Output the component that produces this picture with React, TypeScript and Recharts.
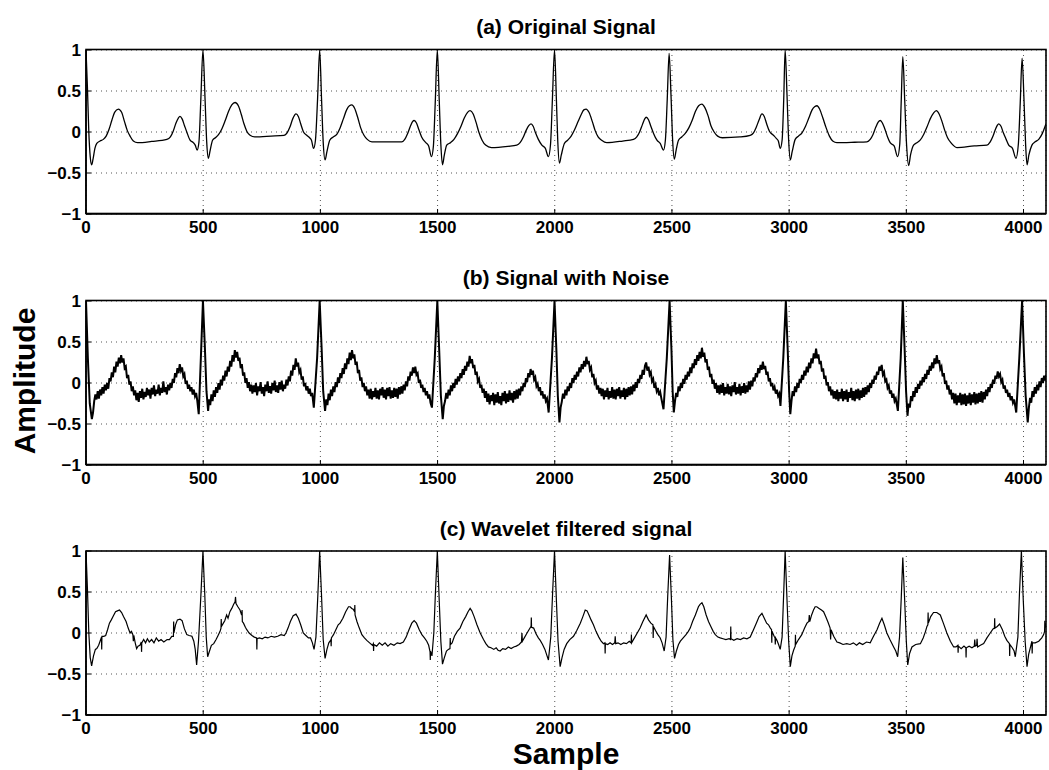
import React from "react";
import { LineChart, Line, XAxis, YAxis, CartesianGrid } from "recharts";

const FONT = "'Liberation Sans', Arial, Helvetica, sans-serif";

const sampleTicks = [0, 500, 1000, 1500, 2000, 2500, 3000, 3500, 4000];
const amplitudeTicks = [-1, -0.5, 0, 0.5, 1];

// (a) clean ECG
const originalSignal: [number, number][] = [
  [0, 1], [6, 0.55], [12, 0.0], [18, -0.3], [24, -0.4], [30, -0.33], [38, -0.2], [46, -0.14], [60, -0.11], [74, -0.09],
  [86, -0.05], [98, 0.03], [110, 0.14], [122, 0.24], [138, 0.28], [152, 0.24], [164, 0.13], [176, 0.02], [188, -0.05],
  [202, -0.11], [220, -0.13], [280, -0.115], [345, -0.09], [360, -0.06], [372, 0.01], [384, 0.11], [394, 0.17], [401, 0.19],
  [410, 0.16], [420, 0.08], [430, 0.0], [444, -0.1], [458, -0.13], [466, -0.16], [474, -0.22],
  [482, -0.12], [490, 0.4], [499, 1], [508, 0.4], [515, -0.12], [522, -0.32], [530, -0.22], [540, -0.1], [552, -0.07],
  [566, -0.03], [580, 0.04], [594, 0.14], [608, 0.25], [622, 0.33], [636, 0.36], [650, 0.32], [662, 0.22], [674, 0.1],
  [686, 0.01], [700, -0.04], [720, -0.06], [790, -0.05], [845, -0.04], [858, -0.01], [870, 0.06], [882, 0.16], [896, 0.22],
  [906, 0.19], [916, 0.1], [928, 0.0], [942, -0.04], [954, -0.07], [962, -0.1], [971, -0.2],
  [979, -0.1], [988, 0.4], [997, 1], [1005, 0.4], [1012, -0.12], [1020, -0.34], [1028, -0.24], [1040, -0.1], [1055, -0.06],
  [1070, -0.03], [1084, 0.05], [1098, 0.16], [1112, 0.27], [1124, 0.32], [1134, 0.33], [1146, 0.29], [1160, 0.17],
  [1172, 0.05], [1186, -0.04], [1200, -0.09], [1220, -0.12], [1300, -0.12], [1347, -0.12], [1360, -0.09], [1372, -0.02],
  [1384, 0.07], [1394, 0.13], [1400, 0.14], [1410, 0.11], [1420, 0.03], [1432, -0.06], [1450, -0.13], [1462, -0.17], [1474, -0.3],
  [1482, -0.18], [1490, 0.35], [1499, 1], [1507, 0.4], [1514, -0.15], [1521, -0.4], [1529, -0.28], [1539, -0.16], [1555, -0.13],
  [1570, -0.09], [1585, -0.02], [1600, 0.07], [1614, 0.17], [1628, 0.24], [1639, 0.26], [1652, 0.22], [1664, 0.12], [1676, 0.0],
  [1690, -0.1], [1705, -0.16], [1730, -0.19], [1800, -0.175], [1838, -0.16], [1852, -0.13], [1866, -0.06], [1878, 0.02],
  [1890, 0.08], [1899, 0.1], [1908, 0.07], [1918, -0.01], [1930, -0.09], [1945, -0.16], [1960, -0.2], [1973, -0.3],
  [1982, -0.15], [1990, 0.4], [1999, 1], [2007, 0.4], [2013, -0.12], [2020, -0.38], [2028, -0.28], [2041, -0.14], [2055, -0.1],
  [2070, -0.05], [2085, 0.03], [2100, 0.13], [2114, 0.22], [2124, 0.27], [2134, 0.28], [2146, 0.24], [2160, 0.13], [2172, 0.02],
  [2185, -0.06], [2200, -0.1], [2222, -0.13], [2290, -0.11], [2336, -0.09], [2350, -0.06], [2362, 0.0], [2374, 0.09],
  [2384, 0.16], [2390, 0.18], [2400, 0.15], [2410, 0.07], [2422, -0.02], [2436, -0.1], [2450, -0.14], [2464, -0.22],
  [2472, -0.1], [2480, 0.4], [2488, 0.96], [2496, 0.45], [2503, -0.1], [2510, -0.33], [2518, -0.22], [2528, -0.1], [2542, -0.06],
  [2556, -0.02], [2572, 0.05], [2586, 0.14], [2600, 0.25], [2614, 0.32], [2628, 0.34], [2640, 0.3], [2654, 0.2], [2666, 0.08],
  [2680, 0.0], [2695, -0.05], [2715, -0.07], [2790, -0.06], [2834, -0.04], [2848, -0.01], [2860, 0.06], [2872, 0.15],
  [2884, 0.22], [2894, 0.19], [2904, 0.1], [2916, 0.01], [2933, -0.04], [2946, -0.08], [2954, -0.11], [2962, -0.2],
  [2970, -0.1], [2977, 0.4], [2983, 1], [2991, 0.45], [2998, -0.1], [3005, -0.34], [3013, -0.24], [3026, -0.09], [3040, -0.05],
  [3055, -0.01], [3070, 0.07], [3084, 0.17], [3098, 0.27], [3110, 0.31], [3119, 0.32], [3130, 0.28], [3144, 0.17], [3158, 0.05],
  [3172, -0.05], [3186, -0.11], [3204, -0.13], [3280, -0.125], [3332, -0.12], [3346, -0.09], [3358, -0.03], [3370, 0.06],
  [3380, 0.12], [3389, 0.14], [3398, 0.11], [3408, 0.04], [3420, -0.06], [3431, -0.13], [3448, -0.17], [3463, -0.3],
  [3472, -0.15], [3478, 0.35], [3485, 0.92], [3493, 0.4], [3501, -0.15], [3510, -0.41], [3518, -0.28], [3531, -0.16],
  [3545, -0.13], [3559, -0.1], [3574, -0.03], [3588, 0.06], [3602, 0.16], [3616, 0.23], [3628, 0.26], [3640, 0.22], [3652, 0.13],
  [3664, 0.02], [3676, -0.07], [3690, -0.13], [3716, -0.19], [3790, -0.17], [3844, -0.16], [3858, -0.12], [3870, -0.05],
  [3880, 0.03], [3888, 0.08], [3894, 0.1], [3904, 0.07], [3914, -0.01], [3926, -0.09], [3937, -0.16], [3953, -0.2], [3968, -0.32],
  [3978, -0.15], [3986, 0.35], [3994, 0.9], [4002, 0.4], [4009, -0.15], [4015, -0.4], [4023, -0.28], [4036, -0.16], [4050, -0.12],
  [4065, -0.09], [4080, -0.02], [4096, 0.1],
];

// (b) the same record with noise
const noisySignal: [number, number][] = [
  [0, 1], [8, 0.3], [16, -0.25], [25, -0.44], [30, -0.36], [35, -0.22], [40, -0.14], [45, -0.2], [50, -0.1], [55, -0.19],
  [60, -0.08], [65, -0.15], [70, -0.05], [75, -0.13], [80, -0.02], [85, -0.09], [90, 0.0], [95, -0.07], [100, 0.06],
  [105, 0.02], [110, 0.13], [115, 0.07], [120, 0.2], [125, 0.13], [130, 0.26], [135, 0.2], [140, 0.31], [145, 0.24], [150, 0.34],
  [155, 0.25], [160, 0.3], [165, 0.18], [170, 0.2], [175, 0.06], [180, 0.1], [185, -0.02], [190, 0.02], [195, -0.1], [200, -0.04],
  [205, -0.15], [210, -0.09], [215, -0.21], [220, -0.12], [225, -0.23], [230, -0.1], [235, -0.18], [240, -0.07], [245, -0.2],
  [250, -0.11], [255, -0.17], [260, -0.06], [265, -0.15], [270, -0.08], [275, -0.19], [280, -0.06], [285, -0.14], [290, -0.03],
  [295, -0.16], [300, -0.08], [305, -0.13], [310, -0.02], [315, -0.15], [320, -0.06], [325, -0.12], [330, 0.02], [335, -0.11],
  [340, -0.05], [345, -0.14], [350, -0.02], [355, -0.09], [360, 0.0], [365, -0.06], [370, 0.05], [375, 0.0], [380, 0.12],
  [385, 0.07], [390, 0.18], [395, 0.12], [400, 0.23], [405, 0.15], [410, 0.19], [415, 0.08], [420, 0.11], [425, -0.01],
  [430, 0.03], [435, -0.07], [440, -0.02], [445, -0.1], [450, -0.05], [455, -0.14], [460, -0.08], [465, -0.16], [470, -0.12],
  [475, -0.22], [481, -0.38],
  [490, 0.3], [499, 1], [507, 0.45], [514, -0.1], [521, -0.34], [525, -0.2], [530, -0.27], [535, -0.14], [540, -0.22],
  [545, -0.09], [550, -0.17], [555, -0.05], [560, -0.12], [565, 0.0], [570, -0.08], [575, 0.04], [580, -0.03], [585, 0.09],
  [590, 0.03], [595, 0.15], [600, 0.08], [605, 0.2], [610, 0.14], [615, 0.27], [620, 0.2], [625, 0.34], [630, 0.26], [635, 0.4],
  [640, 0.31], [645, 0.38], [650, 0.27], [655, 0.31], [660, 0.18], [665, 0.23], [670, 0.09], [675, 0.13], [680, 0.0],
  [685, 0.06], [690, -0.06], [695, 0.01], [700, -0.1], [705, -0.02], [710, -0.13], [715, -0.03], [720, -0.11], [725, 0.0],
  [730, -0.15], [735, -0.04], [740, -0.1], [745, 0.01], [750, -0.13], [755, -0.05], [760, -0.16], [765, -0.02], [770, -0.1],
  [775, 0.02], [780, -0.12], [785, -0.04], [790, -0.13], [795, 0.0], [800, -0.09], [805, 0.03], [810, -0.11], [815, -0.03],
  [820, -0.12], [825, 0.01], [830, -0.08], [835, 0.03], [840, -0.1], [845, -0.02], [850, -0.07], [855, 0.04], [860, -0.03],
  [865, 0.08], [870, 0.02], [875, 0.15], [880, 0.09], [885, 0.22], [890, 0.16], [895, 0.3], [900, 0.2], [905, 0.25],
  [910, 0.13], [915, 0.16], [920, 0.04], [925, 0.08], [930, -0.04], [935, 0.0], [940, -0.09], [945, -0.04], [950, -0.13],
  [955, -0.07], [960, -0.16], [965, -0.12], [972, -0.3],
  [986, 0.3], [997, 1], [1005, 0.45], [1012, -0.1], [1020, -0.34], [1025, -0.2], [1030, -0.27], [1035, -0.13], [1040, -0.21],
  [1045, -0.08], [1050, -0.16], [1055, -0.04], [1060, -0.11], [1065, 0.01], [1070, -0.05], [1075, 0.07], [1080, 0.0],
  [1085, 0.12], [1090, 0.06], [1095, 0.18], [1100, 0.11], [1105, 0.24], [1110, 0.17], [1115, 0.3], [1120, 0.23], [1125, 0.37],
  [1130, 0.28], [1135, 0.4], [1140, 0.3], [1145, 0.35], [1150, 0.22], [1155, 0.26], [1160, 0.12], [1165, 0.16], [1170, 0.03],
  [1175, 0.07], [1180, -0.05], [1185, 0.0], [1190, -0.1], [1195, -0.04], [1200, -0.15], [1205, -0.08], [1210, -0.19],
  [1215, -0.07], [1220, -0.2], [1225, -0.1], [1230, -0.17], [1235, -0.06], [1240, -0.19], [1245, -0.09], [1250, -0.2],
  [1255, -0.07], [1260, -0.15], [1265, -0.05], [1270, -0.18], [1275, -0.08], [1280, -0.2], [1285, -0.06], [1290, -0.16],
  [1295, -0.05], [1300, -0.19], [1305, -0.09], [1310, -0.18], [1315, -0.06], [1320, -0.17], [1325, -0.07], [1330, -0.19],
  [1335, -0.05], [1340, -0.14], [1345, -0.04], [1350, -0.13], [1355, -0.02], [1360, -0.09], [1365, 0.02], [1370, -0.04],
  [1375, 0.08], [1380, 0.03], [1385, 0.14], [1390, 0.09], [1395, 0.19], [1400, 0.12], [1405, 0.2], [1410, 0.1], [1415, 0.12],
  [1420, 0.0], [1425, 0.04], [1430, -0.06], [1435, -0.02], [1440, -0.11], [1445, -0.06], [1450, -0.15], [1455, -0.1],
  [1460, -0.19], [1465, -0.14], [1470, -0.24], [1476, -0.3],
  [1488, 0.3], [1499, 1], [1507, 0.4], [1514, -0.15], [1522, -0.44], [1527, -0.28], [1532, -0.22], [1537, -0.12], [1542, -0.19],
  [1547, -0.08], [1552, -0.15], [1557, -0.03], [1562, -0.1], [1567, 0.0], [1572, -0.06], [1577, 0.05], [1582, -0.02],
  [1587, 0.08], [1592, 0.02], [1597, 0.12], [1602, 0.06], [1607, 0.17], [1612, 0.1], [1617, 0.21], [1622, 0.15], [1627, 0.26],
  [1632, 0.2], [1637, 0.33], [1642, 0.24], [1647, 0.29], [1652, 0.18], [1657, 0.22], [1662, 0.1], [1667, 0.14], [1672, 0.02],
  [1677, 0.05], [1682, -0.06], [1687, -0.02], [1692, -0.12], [1697, -0.07], [1702, -0.18], [1707, -0.1], [1712, -0.23],
  [1717, -0.13], [1722, -0.26], [1727, -0.15], [1732, -0.22], [1737, -0.12], [1742, -0.27], [1747, -0.14], [1752, -0.24],
  [1757, -0.11], [1762, -0.25], [1767, -0.16], [1772, -0.27], [1777, -0.12], [1782, -0.22], [1787, -0.1], [1792, -0.25],
  [1797, -0.13], [1802, -0.23], [1807, -0.09], [1812, -0.21], [1817, -0.12], [1822, -0.24], [1827, -0.1], [1832, -0.2],
  [1837, -0.08], [1842, -0.19], [1847, -0.07], [1852, -0.15], [1857, -0.04], [1862, -0.1], [1867, 0.0], [1872, -0.05],
  [1877, 0.06], [1882, 0.01], [1887, 0.12], [1892, 0.07], [1897, 0.17], [1902, 0.1], [1907, 0.15], [1912, 0.04], [1917, 0.07],
  [1922, -0.04], [1927, -0.01], [1932, -0.1], [1937, -0.05], [1942, -0.15], [1947, -0.1], [1952, -0.19], [1957, -0.14],
  [1962, -0.22], [1967, -0.19], [1974, -0.36],
  [1988, 0.3], [1999, 1], [2007, 0.4], [2013, -0.15], [2020, -0.48], [2025, -0.3], [2030, -0.23], [2035, -0.13], [2040, -0.19],
  [2045, -0.08], [2050, -0.15], [2055, -0.04], [2060, -0.1], [2065, 0.0], [2070, -0.06], [2075, 0.06], [2080, 0.0],
  [2085, 0.1], [2090, 0.04], [2095, 0.14], [2100, 0.08], [2105, 0.19], [2110, 0.13], [2115, 0.23], [2120, 0.17], [2125, 0.27],
  [2130, 0.2], [2135, 0.32], [2140, 0.23], [2145, 0.27], [2150, 0.16], [2155, 0.19], [2160, 0.07], [2165, 0.11], [2170, 0.0],
  [2175, 0.03], [2180, -0.08], [2185, -0.03], [2190, -0.13], [2195, -0.06], [2200, -0.16], [2205, -0.07], [2210, -0.2],
  [2215, -0.09], [2220, -0.17], [2225, -0.06], [2230, -0.2], [2235, -0.1], [2240, -0.18], [2245, -0.05], [2250, -0.19],
  [2255, -0.08], [2260, -0.2], [2265, -0.07], [2270, -0.16], [2275, -0.05], [2280, -0.19], [2285, -0.09], [2290, -0.17],
  [2295, -0.06], [2300, -0.2], [2305, -0.07], [2310, -0.17], [2315, -0.05], [2320, -0.15], [2325, -0.04], [2330, -0.14],
  [2335, -0.02], [2340, -0.1], [2345, 0.01], [2350, -0.06], [2355, 0.05], [2360, 0.0], [2365, 0.1], [2370, 0.05], [2375, 0.16],
  [2380, 0.1], [2385, 0.21], [2390, 0.25], [2395, 0.15], [2400, 0.2], [2405, 0.1], [2410, 0.13], [2415, 0.02], [2420, 0.05],
  [2425, -0.06], [2430, -0.02], [2435, -0.1], [2440, -0.06], [2445, -0.15], [2450, -0.11], [2455, -0.19], [2464, -0.32],
  [2478, 0.3], [2490, 1], [2498, 0.4], [2503, -0.1], [2508, -0.36], [2513, -0.22], [2518, -0.12], [2523, -0.17], [2528, -0.04],
  [2533, -0.1], [2538, 0.0], [2543, -0.06], [2548, 0.05], [2553, -0.01], [2558, 0.1], [2563, 0.04], [2568, 0.14], [2573, 0.08],
  [2578, 0.19], [2583, 0.12], [2588, 0.24], [2593, 0.18], [2598, 0.29], [2603, 0.22], [2608, 0.34], [2613, 0.27], [2618, 0.38],
  [2623, 0.3], [2628, 0.43], [2633, 0.32], [2638, 0.37], [2643, 0.25], [2648, 0.29], [2653, 0.16], [2658, 0.2], [2663, 0.07],
  [2668, 0.11], [2673, -0.01], [2678, 0.04], [2683, -0.07], [2688, 0.0], [2693, -0.12], [2698, -0.03], [2703, -0.14],
  [2708, -0.02], [2713, -0.12], [2718, 0.0], [2723, -0.15], [2728, -0.05], [2733, -0.13], [2738, -0.01], [2743, -0.14],
  [2748, -0.04], [2753, -0.16], [2758, -0.03], [2763, -0.11], [2768, 0.01], [2773, -0.14], [2778, -0.05], [2783, -0.13],
  [2788, -0.01], [2793, -0.15], [2798, -0.04], [2803, -0.12], [2808, 0.0], [2813, -0.13], [2818, -0.03], [2823, -0.11],
  [2828, 0.02], [2833, -0.08], [2838, 0.03], [2843, -0.04], [2848, 0.07], [2853, 0.02], [2858, 0.12], [2863, 0.07],
  [2868, 0.18], [2873, 0.12], [2878, 0.22], [2883, 0.16], [2888, 0.26], [2893, 0.17], [2898, 0.21], [2903, 0.1], [2908, 0.14],
  [2913, 0.02], [2918, 0.06], [2923, -0.04], [2928, 0.0], [2933, -0.09], [2938, -0.05], [2943, -0.13], [2948, -0.08],
  [2953, -0.16], [2958, -0.13], [2963, -0.28],
  [2975, 0.3], [2986, 1], [2994, 0.4], [3000, -0.1], [3005, -0.38], [3010, -0.22], [3015, -0.1], [3020, -0.16], [3025, -0.04],
  [3030, -0.11], [3035, 0.0], [3040, -0.06], [3045, 0.05], [3050, 0.0], [3055, 0.1], [3060, 0.04], [3065, 0.15], [3070, 0.09],
  [3075, 0.2], [3080, 0.13], [3085, 0.25], [3090, 0.18], [3095, 0.3], [3100, 0.24], [3105, 0.36], [3110, 0.3], [3115, 0.42],
  [3120, 0.3], [3125, 0.35], [3130, 0.23], [3135, 0.27], [3140, 0.14], [3145, 0.18], [3150, 0.05], [3155, 0.09], [3160, -0.03],
  [3165, 0.01], [3170, -0.1], [3175, -0.04], [3180, -0.15], [3185, -0.08], [3190, -0.19], [3195, -0.1], [3200, -0.2],
  [3205, -0.08], [3210, -0.22], [3215, -0.11], [3220, -0.19], [3225, -0.07], [3230, -0.22], [3235, -0.1], [3240, -0.2],
  [3245, -0.08], [3250, -0.23], [3255, -0.11], [3260, -0.18], [3265, -0.06], [3270, -0.21], [3275, -0.1], [3280, -0.22],
  [3285, -0.08], [3290, -0.19], [3295, -0.07], [3300, -0.21], [3305, -0.09], [3310, -0.18], [3315, -0.06], [3320, -0.17],
  [3325, -0.05], [3330, -0.14], [3335, -0.03], [3340, -0.11], [3345, 0.0], [3350, -0.06], [3355, 0.04], [3360, -0.01],
  [3365, 0.09], [3370, 0.04], [3375, 0.14], [3380, 0.1], [3385, 0.2], [3390, 0.15], [3395, 0.22], [3400, 0.1], [3405, 0.13],
  [3410, 0.02], [3415, 0.04], [3420, -0.06], [3425, -0.03], [3430, -0.13], [3435, -0.09], [3440, -0.18], [3445, -0.13],
  [3450, -0.22], [3455, -0.19], [3464, -0.34],
  [3476, 0.3], [3485, 1], [3493, 0.4], [3499, -0.1], [3505, -0.4], [3510, -0.25], [3515, -0.3], [3520, -0.16], [3525, -0.22],
  [3530, -0.1], [3535, -0.17], [3540, -0.05], [3545, -0.12], [3550, -0.01], [3555, -0.07], [3560, 0.03], [3565, -0.03],
  [3570, 0.07], [3575, 0.01], [3580, 0.11], [3585, 0.05], [3590, 0.16], [3595, 0.1], [3600, 0.21], [3605, 0.15], [3610, 0.25],
  [3615, 0.18], [3620, 0.3], [3625, 0.23], [3630, 0.34], [3635, 0.24], [3640, 0.28], [3645, 0.17], [3650, 0.2], [3655, 0.08],
  [3660, 0.12], [3665, -0.01], [3670, 0.03], [3675, -0.08], [3680, -0.03], [3685, -0.14], [3690, -0.08], [3695, -0.2],
  [3700, -0.12], [3705, -0.25], [3710, -0.13], [3715, -0.27], [3720, -0.15], [3725, -0.24], [3730, -0.12], [3735, -0.27],
  [3740, -0.14], [3745, -0.26], [3750, -0.13], [3755, -0.28], [3760, -0.15], [3765, -0.25], [3770, -0.12], [3775, -0.27],
  [3780, -0.14], [3785, -0.24], [3790, -0.11], [3795, -0.26], [3800, -0.13], [3805, -0.25], [3810, -0.12], [3815, -0.23],
  [3820, -0.1], [3825, -0.24], [3830, -0.11], [3835, -0.2], [3840, -0.08], [3845, -0.16], [3850, -0.05], [3855, -0.11],
  [3860, -0.01], [3865, -0.06], [3870, 0.04], [3875, -0.01], [3880, 0.09], [3885, 0.05], [3890, 0.14], [3895, 0.08],
  [3900, 0.11], [3905, 0.01], [3910, 0.04], [3915, -0.07], [3920, -0.03], [3925, -0.12], [3930, -0.08], [3935, -0.17],
  [3940, -0.12], [3945, -0.21], [3950, -0.16], [3955, -0.24], [3960, -0.2], [3969, -0.36],
  [3982, 0.3], [3994, 1], [4002, 0.35], [4009, -0.15], [4018, -0.48], [4023, -0.3], [4028, -0.18], [4033, -0.24], [4038, -0.1],
  [4043, -0.17], [4048, -0.05], [4053, -0.13], [4058, -0.02], [4063, -0.09], [4068, 0.02], [4073, -0.05], [4078, 0.06],
  [4083, 0.0], [4088, 0.09], [4093, 0.03], [4096, 0.1],
];

// (c) after wavelet denoising, short leftover spikes kept
const filteredSignal: [number, number][] = [
  [0, 1], [6, 0.55], [12, 0.0], [18, -0.3], [24, -0.4], [32, -0.28], [40, -0.2], [46, -0.19], [54, -0.15], [60, -0.1],
  [66, -0.05], [67, -0.2], [68, -0.04], [76, -0.04], [84, -0.03], [92, 0.04], [100, 0.12], [108, 0.16], [117, 0.21],
  [126, 0.26], [134, 0.27], [143, 0.28], [152, 0.25], [160, 0.2], [171, 0.14], [180, 0.06], [188, 0.0], [194, 0.02],
  [200, -0.02], [202, -0.1], [204, -0.03], [210, -0.12], [216, -0.19], [222, -0.16], [230, -0.15], [236, -0.11], [237, -0.23],
  [238, -0.12], [246, -0.08], [254, -0.12], [262, -0.07], [270, -0.11], [280, -0.08], [290, -0.12], [300, -0.06], [310, -0.1],
  [320, -0.08], [332, -0.11], [346, -0.08], [356, -0.08], [366, -0.04], [373, -0.04], [374, 0.14], [375, 0.0], [382, 0.1],
  [390, 0.16], [401, 0.17], [410, 0.15], [420, 0.05], [430, -0.02], [440, -0.03], [452, -0.04], [460, -0.1], [466, -0.2], [472, -0.39],
  [480, -0.1], [490, 0.45], [499, 1], [507, 0.45], [513, -0.05], [519, -0.29], [527, -0.22], [535, -0.15], [545, -0.13],
  [555, -0.08], [562, -0.04], [572, 0.02], [576, 0.06], [577, 0.17], [578, 0.08], [586, 0.12], [592, 0.15], [600, 0.22],
  [606, 0.18], [614, 0.26], [622, 0.3], [630, 0.35], [636, 0.38], [638, 0.44], [640, 0.36], [648, 0.32], [657, 0.28],
  [664, 0.22], [666, 0.28], [667, 0.14], [672, 0.12], [680, 0.07], [686, 0.04], [696, 0.0], [708, -0.03], [718, -0.05],
  [728, -0.06], [729, -0.2], [730, -0.07], [740, -0.06], [752, -0.07], [764, -0.05], [776, -0.06], [790, -0.04], [804, -0.05],
  [818, -0.04], [832, -0.02], [846, -0.03], [853, 0.0], [862, 0.06], [872, 0.14], [884, 0.21], [896, 0.23], [906, 0.18],
  [916, 0.1], [927, 0.0], [938, -0.03], [949, -0.06], [958, -0.06], [966, -0.12], [973, -0.2],
  [981, -0.05], [989, 0.45], [997, 1], [1005, 0.45], [1012, -0.08], [1020, -0.31], [1028, -0.2], [1036, -0.12], [1041, -0.1],
  [1045, -0.08], [1046, -0.16], [1047, -0.06], [1056, -0.02], [1066, 0.04], [1076, 0.1], [1084, 0.12], [1096, 0.18],
  [1108, 0.26], [1120, 0.32], [1127, 0.32], [1134, 0.3], [1140, 0.29], [1146, 0.26], [1147, 0.34], [1148, 0.22], [1156, 0.14],
  [1166, 0.06], [1177, -0.02], [1188, -0.06], [1198, -0.09], [1210, -0.12], [1222, -0.15], [1226, -0.13], [1227, -0.22],
  [1228, -0.14], [1240, -0.16], [1252, -0.12], [1264, -0.15], [1276, -0.12], [1288, -0.16], [1300, -0.13], [1314, -0.15],
  [1328, -0.12], [1340, -0.13], [1354, -0.11], [1366, -0.05], [1378, 0.04], [1390, 0.12], [1400, 0.15], [1410, 0.12],
  [1422, 0.04], [1433, -0.02], [1444, -0.06], [1454, -0.1], [1462, -0.15], [1468, -0.23], [1469, -0.33], [1470, -0.22], [1476, -0.28],
  [1484, 0.0], [1491, 0.5], [1499, 1], [1507, 0.4], [1514, -0.1], [1521, -0.38], [1529, -0.3], [1538, -0.22], [1546, -0.2],
  [1553, -0.19], [1554, -0.06], [1555, -0.14], [1562, -0.12], [1572, -0.04], [1584, 0.02], [1596, 0.06], [1608, 0.14],
  [1620, 0.2], [1630, 0.26], [1639, 0.3], [1646, 0.27], [1656, 0.2], [1668, 0.1], [1682, 0.0], [1696, -0.08], [1706, -0.13],
  [1717, -0.17], [1728, -0.18], [1740, -0.2], [1750, -0.18], [1758, -0.21], [1767, -0.22], [1778, -0.19], [1790, -0.2],
  [1802, -0.17], [1814, -0.19], [1825, -0.17], [1836, -0.16], [1848, -0.14], [1858, -0.11], [1860, 0.0], [1862, -0.1],
  [1870, -0.06], [1880, -0.01], [1890, 0.04], [1899, 0.08], [1900, 0.19], [1901, 0.07], [1910, 0.06], [1920, -0.01],
  [1930, -0.06], [1938, -0.09], [1948, -0.14], [1958, -0.2], [1966, -0.27], [1973, -0.33],
  [1983, -0.05], [1991, 0.5], [1999, 1], [2007, 0.4], [2014, -0.1], [2023, -0.41], [2031, -0.3], [2040, -0.2], [2051, -0.13],
  [2064, -0.08], [2080, -0.04], [2094, 0.03], [2109, 0.12], [2120, 0.2], [2130, 0.28], [2138, 0.27], [2146, 0.22], [2155, 0.16],
  [2165, 0.1], [2176, 0.02], [2188, -0.05], [2198, -0.1], [2208, -0.13], [2214, -0.12], [2215, -0.25], [2216, -0.13],
  [2226, -0.14], [2236, -0.12], [2246, -0.14], [2256, -0.12], [2258, -0.04], [2260, -0.13], [2270, -0.12], [2282, -0.14],
  [2294, -0.12], [2306, -0.13], [2318, -0.1], [2326, -0.12], [2327, -0.02], [2328, -0.12], [2340, -0.06], [2352, 0.0],
  [2364, 0.06], [2376, 0.14], [2390, 0.22], [2400, 0.16], [2410, 0.12], [2419, 0.1], [2420, -0.06], [2421, 0.08], [2430, 0.03],
  [2440, -0.02], [2450, -0.06], [2458, -0.12], [2467, -0.22],
  [2475, -0.05], [2482, 0.45], [2490, 0.95], [2498, 0.4], [2504, -0.08], [2511, -0.31], [2519, -0.22], [2528, -0.14],
  [2536, -0.1], [2548, -0.06], [2560, -0.02], [2570, 0.02], [2578, 0.06], [2588, 0.14], [2600, 0.22], [2613, 0.32],
  [2620, 0.35], [2628, 0.37], [2636, 0.32], [2646, 0.22], [2656, 0.14], [2666, 0.08], [2676, 0.02], [2685, -0.02],
  [2696, -0.05], [2706, -0.06], [2718, -0.07], [2730, -0.08], [2744, -0.07], [2750, -0.08], [2751, 0.08], [2752, -0.07],
  [2764, -0.09], [2778, -0.07], [2792, -0.08], [2806, -0.06], [2820, -0.07], [2834, -0.05], [2848, 0.04], [2860, 0.12],
  [2872, 0.2], [2884, 0.24], [2894, 0.18], [2904, 0.12], [2912, 0.1], [2920, 0.06], [2925, 0.04], [2926, -0.12], [2927, 0.02],
  [2936, -0.04], [2940, -0.06], [2941, -0.14], [2942, -0.06], [2948, -0.09], [2955, -0.14], [2962, -0.2],
  [2970, -0.05], [2977, 0.5], [2983, 1], [2991, 0.4], [2998, -0.1], [3005, -0.41], [3012, -0.28], [3019, -0.21], [3026, -0.16],
  [3027, -0.02], [3028, -0.14], [3040, -0.08], [3054, -0.02], [3066, 0.06], [3076, 0.12], [3084, 0.14], [3086, 0.22],
  [3088, 0.14], [3096, 0.22], [3104, 0.28], [3111, 0.32], [3118, 0.32], [3128, 0.3], [3138, 0.28], [3147, 0.26], [3156, 0.2],
  [3166, 0.13], [3175, 0.06], [3177, -0.08], [3179, 0.04], [3190, -0.04], [3204, -0.11], [3216, -0.12], [3230, -0.14],
  [3246, -0.13], [3260, -0.14], [3274, -0.12], [3288, -0.15], [3300, -0.12], [3314, -0.14], [3330, -0.11], [3346, -0.12],
  [3360, -0.04], [3375, 0.04], [3386, 0.12], [3396, 0.18], [3406, 0.1], [3417, 0.0], [3430, -0.08], [3446, -0.17],
  [3455, -0.22], [3463, -0.29],
  [3471, -0.05], [3478, 0.4], [3485, 0.92], [3493, 0.4], [3500, -0.1], [3506, -0.39], [3514, -0.25], [3524, -0.17],
  [3540, -0.14], [3560, -0.13], [3572, -0.06], [3582, 0.02], [3588, 0.08], [3592, 0.1], [3593, 0.25], [3594, 0.12],
  [3604, 0.2], [3616, 0.25], [3630, 0.25], [3645, 0.22], [3658, 0.12], [3673, 0.0], [3688, -0.1], [3702, -0.17], [3712, -0.17],
  [3720, -0.15], [3721, -0.24], [3722, -0.16], [3734, -0.19], [3746, -0.16], [3754, -0.18], [3755, -0.3], [3756, -0.18],
  [3768, -0.16], [3780, -0.18], [3790, -0.16], [3792, -0.08], [3794, -0.16], [3800, -0.15], [3802, -0.07], [3804, -0.17],
  [3816, -0.15], [3830, -0.13], [3844, -0.06], [3858, 0.0], [3870, 0.05], [3876, 0.06], [3877, 0.18], [3878, 0.06],
  [3888, 0.08], [3898, 0.11], [3910, 0.04], [3920, -0.04], [3929, -0.09], [3940, -0.13], [3941, -0.28], [3942, -0.14],
  [3952, -0.18], [3960, -0.22], [3965, -0.29],
  [3976, -0.05], [3983, 0.5], [3991, 1], [3999, 0.4], [4007, -0.1], [4015, -0.41], [4022, -0.26], [4030, -0.17], [4036, -0.1],
  [4037, -0.25], [4038, -0.12], [4050, -0.12], [4065, -0.1], [4078, -0.06], [4086, -0.02], [4090, 0.02], [4091, 0.15],
  [4092, 0.06], [4096, 0.12],
];

const panelTitles = ["(a) Original Signal", "(b) Signal with Noise", "(c) Wavelet filtered signal"];

const PLOT_LEFT = 86;
const PLOT_W = 960;
const PLOT_H = 164;
const panelTops = [49.5, 300.5, 551];

const toRows = (pts: [number, number][]) => pts.map(([x, y]) => ({ x, y }));

const fmtAmp = (v: number) => (v < 0 ? "\u2212" + Math.abs(v) : String(v));

const tickStyle = { fill: "#000", fontSize: 17, fontWeight: "bold", fontFamily: FONT };
const frameLine = { stroke: "#000", strokeWidth: 1.5 };
const tickMark = { stroke: "#000", strokeWidth: 1 };

function SignalPanel({ rows, plotTop, curve, lineWidth }: {
  rows: { x: number; y: number }[];
  plotTop: number;
  curve: "monotone" | "linear";
  lineWidth: number;
}) {
  return (
    <div style={{ position: "absolute", left: 0, top: plotTop - 20 }}>
      <LineChart width={1049} height={PLOT_H + 60} data={rows} margin={{ top: 20, right: 3, bottom: 10, left: 26 }}>
        <CartesianGrid stroke="#555" strokeDasharray="1 4" />
        <XAxis
          dataKey="x"
          type="number"
          domain={[0, 4096]}
          ticks={sampleTicks}
          interval={0}
          allowDataOverflow
          axisLine={frameLine}
          tickLine={tickMark}
          tickSize={-5}
          tickMargin={12}
          height={30}
          tick={tickStyle}
        />
        <XAxis
          xAxisId="top"
          orientation="top"
          type="number"
          domain={[0, 4096]}
          ticks={sampleTicks}
          interval={0}
          allowDataOverflow
          axisLine={frameLine}
          tickLine={tickMark}
          tickSize={-5}
          height={0}
          tick={false}
        />
        <YAxis
          type="number"
          domain={[-1, 1]}
          ticks={amplitudeTicks}
          interval={0}
          allowDataOverflow
          axisLine={frameLine}
          tickLine={tickMark}
          tickSize={-5}
          tickMargin={10}
          width={60}
          tick={tickStyle}
          tickFormatter={fmtAmp}
        />
        <YAxis
          yAxisId="right"
          orientation="right"
          type="number"
          domain={[-1, 1]}
          ticks={amplitudeTicks}
          interval={0}
          allowDataOverflow
          axisLine={frameLine}
          tickLine={tickMark}
          tickSize={-5}
          width={0}
          tick={false}
        />
        <Line
          type={curve}
          dataKey="y"
          stroke="#000"
          strokeWidth={lineWidth}
          dot={false}
          activeDot={false}
          isAnimationActive={false}
        />
      </LineChart>
    </div>
  );
}

export default function App() {
  return (
    <div style={{ position: "absolute", left: 0, top: 0, width: 1049, height: 770, background: "#fff", fontFamily: FONT }}>
      <SignalPanel rows={toRows(originalSignal)} plotTop={panelTops[0]} curve="monotone" lineWidth={1.3} />
      <SignalPanel rows={toRows(noisySignal)} plotTop={panelTops[1]} curve="linear" lineWidth={2} />
      <SignalPanel rows={toRows(filteredSignal)} plotTop={panelTops[2]} curve="linear" lineWidth={1.2} />
      <svg width={1049} height={770} style={{ position: "absolute", left: 0, top: 0, pointerEvents: "none" }}>
        {/* axes box, MATLAB style */}
        {panelTops.map((t) => (
          <rect key={t} x={PLOT_LEFT} y={t} width={PLOT_W} height={PLOT_H} fill="none" stroke="#000" strokeWidth={1.6} />
        ))}
        <g fontFamily={FONT} fontWeight="bold" fill="#000" textAnchor="middle">
          <text x={566} y={34} fontSize={21}>{panelTitles[0]}</text>
          <text x={566} y={285} fontSize={21}>{panelTitles[1]}</text>
          <text x={566} y={536} fontSize={21}>{panelTitles[2]}</text>
          <text x={566} y={764} fontSize={30}>Sample</text>
          <text transform="translate(35,381) rotate(-90)" fontSize={30}>Amplitude</text>
        </g>
      </svg>
    </div>
  );
}
